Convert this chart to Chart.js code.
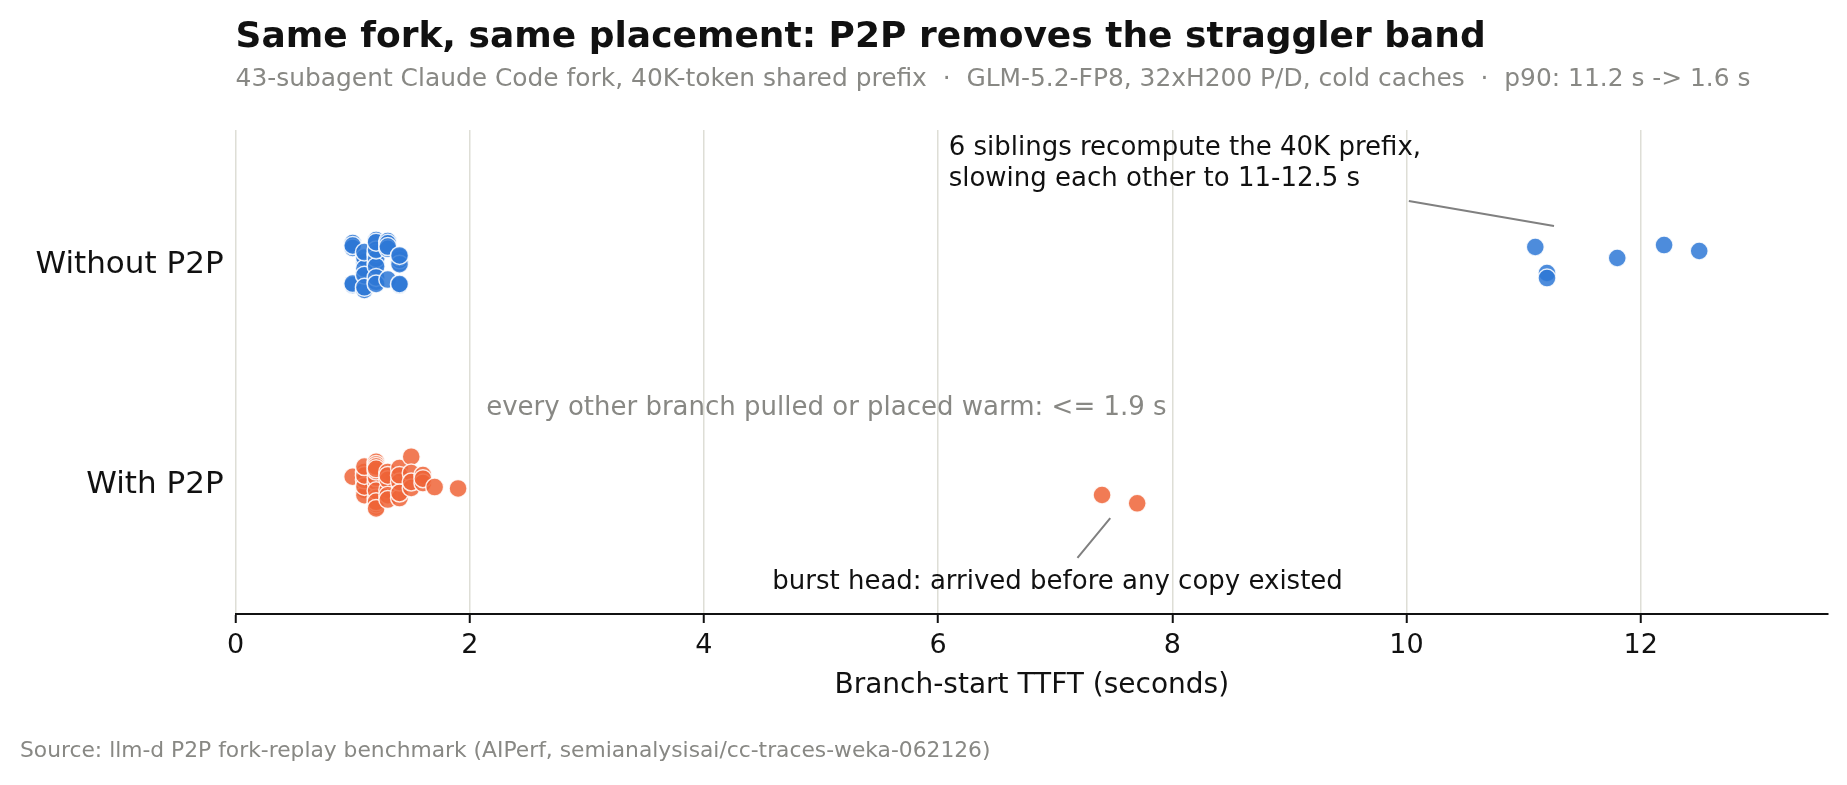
<!DOCTYPE html>
<html>
<head>
<meta charset="utf-8">
<script src="https://cdn.jsdelivr.net/npm/chart.js@4.4.1/dist/chart.umd.min.js"></script>
<style>
  html, body { margin: 0; padding: 0; background: #fff; }
  canvas { display: block; }
</style>
</head>
<body>
<canvas id="forkChart" width="1847" height="785"></canvas>
<script>
const categories = ['With P2P', 'Without P2P'];
const xTickValues = [0, 2, 4, 6, 8, 10, 12];

// branch-start TTFT in seconds, one entry per subagent
const withoutP2PTtft = [
  1.0, 1.0, 1.0, 1.0, 1.0,
  1.1, 1.1, 1.1, 1.1, 1.1, 1.1, 1.1, 1.1,
  1.2, 1.2, 1.2, 1.2, 1.2, 1.2, 1.2, 1.2, 1.2, 1.2, 1.2,
  1.3, 1.3, 1.3, 1.3, 1.3,
  1.4, 1.4, 1.4, 1.4, 1.4, 1.4, 1.4, 1.4,
  11.1, 11.2, 11.2, 11.8, 12.2, 12.5
];
// vertical jitter inside the category band
const withoutP2PJitter = [
  0.086, 0.064, 0.075, -0.105, -0.098,
  0.0, -0.05, -0.127, 0.02, -0.03, -0.06, 0.045, -0.115,
  0.10, 0.032, -0.005, -0.09, 0.04, 0.015, -0.02, 0.055, -0.07, 0.09, -0.10,
  0.095, 0.085, 0.06, -0.08, 0.07,
  0.018, -0.005, -0.105, 0.01, 0.025, -0.01, 0.03, -0.10,
  0.068, -0.05, -0.073, 0.018, 0.077, 0.05
];

const withP2PTtft = [
  1.0,
  1.1, 1.1, 1.1, 1.1, 1.1, 1.1, 1.1,
  1.2, 1.2, 1.2, 1.2, 1.2, 1.2, 1.2, 1.2, 1.2, 1.2, 1.2, 1.2, 1.2,
  1.3, 1.3, 1.3, 1.3, 1.3, 1.3,
  1.4, 1.4, 1.4, 1.4, 1.4,
  1.5, 1.5, 1.5, 1.5,
  1.6, 1.6, 1.6,
  1.7, 1.9,
  7.4, 7.7
];
const withP2PJitter = [
  0.024,
  0.046, -0.036, -0.06, 0.01, -0.02, 0.03, 0.07,
  0.092, 0.0, -0.073, -0.112, 0.08, -0.10, 0.02, -0.04, 0.05, -0.09, 0.07, -0.12, 0.06,
  0.046, -0.036, 0.01, -0.06, 0.03, -0.08,
  -0.073, 0.064, 0.0, 0.03, -0.05,
  0.115, 0.041, -0.027, 0.0,
  0.032, -0.005, 0.015,
  -0.023, -0.029,
  -0.059, -0.097
];

const titleText = 'Same fork, same placement: P2P removes the straggler band';
const subtitleText = '43-subagent Claude Code fork, 40K-token shared prefix  \u00b7  GLM-5.2-FP8, 32xH200 P/D, cold caches  \u00b7  p90: 11.2 s -> 1.6 s';
const sourceText = 'Source: llm-d P2P fork-replay benchmark (AIPerf, semianalysisai/cc-traces-weka-062126)';

const FONT = '"DejaVu Sans", Verdana, sans-serif';

function points(xs, jitter, row) {
  return xs.map((x, i) => ({ x: x, y: row + jitter[i] }));
}

// titles, source line and the callouts
const decorations = {
  id: 'decorations',
  afterDraw(chart) {
    const { ctx, chartArea, scales } = chart;
    const px = (v) => scales.x.getPixelForValue(v);
    const py = (v) => scales.y.getPixelForValue(v);
    ctx.save();

    ctx.textAlign = 'left';
    ctx.textBaseline = 'alphabetic';
    ctx.fillStyle = '#111';
    ctx.font = 'bold 36px ' + FONT;
    ctx.fillText(titleText, chartArea.left, 47);

    ctx.fillStyle = '#888884';
    ctx.font = '24.9px ' + FONT;
    ctx.fillText(subtitleText, chartArea.left, 86);

    ctx.font = '21.8px ' + FONT;
    ctx.fillText(sourceText, 20, 757);

    ctx.strokeStyle = '#808080';
    ctx.lineWidth = 2;
    ctx.beginPath();
    ctx.moveTo(px(10.02), py(1.277));
    ctx.lineTo(px(11.26), py(1.164));
    ctx.moveTo(px(7.19), py(-0.345));
    ctx.lineTo(px(7.47), py(-0.164));
    ctx.stroke();

    ctx.textBaseline = 'middle';
    ctx.fillStyle = '#111';
    ctx.font = '26px ' + FONT;
    ctx.fillText('6 siblings recompute the 40K prefix,', px(6.09), py(1.516));
    ctx.fillText('slowing each other to 11-12.5 s', px(6.09), py(1.375));

    ctx.textAlign = 'center';
    ctx.fillText('burst head: arrived before any copy existed', px(7.02), py(-0.456));

    ctx.textAlign = 'left';
    ctx.fillStyle = '#888884';
    ctx.fillText('every other branch pulled or placed warm: <= 1.9 s', px(2.14), py(0.334));

    ctx.restore();
  }
};

new Chart(document.getElementById('forkChart'), {
  type: 'scatter',
  data: {
    datasets: [
      {
        label: 'Without P2P',
        data: points(withoutP2PTtft, withoutP2PJitter, 1),
        backgroundColor: 'rgba(46, 120, 214, 0.85)',
        borderColor: 'rgba(255, 255, 255, 0.85)',
        borderWidth: 1.5,
        pointRadius: 9,
        pointHoverRadius: 9
      },
      {
        label: 'With P2P',
        data: points(withP2PTtft, withP2PJitter, 0),
        backgroundColor: 'rgba(238, 100, 55, 0.85)',
        borderColor: 'rgba(255, 255, 255, 0.85)',
        borderWidth: 1.5,
        pointRadius: 9,
        pointHoverRadius: 9
      }
    ]
  },
  options: {
    responsive: false,
    devicePixelRatio: 1,
    animation: false,
    layout: {
      padding: { top: 130, right: 19, bottom: 82, left: 0 }
    },
    scales: {
      x: {
        type: 'linear',
        min: 0,
        max: 13.6,
        afterBuildTicks: (scale) => {
          scale.ticks = xTickValues.map((v) => ({ value: v }));
        },
        afterFit: (scale) => {
          scale.height = 89;
        },
        ticks: {
          color: '#111',
          font: { family: FONT, size: 27 },
          padding: 7
        },
        grid: {
          color: '#deded6',
          lineWidth: 1.5,
          tickColor: '#111',
          tickLength: 9,
          tickWidth: 2
        },
        border: {
          color: '#111',
          width: 2
        },
        title: {
          display: true,
          text: 'Branch-start TTFT (seconds)',
          color: '#111',
          font: { family: FONT, size: 28 },
          padding: { top: 0, bottom: 0 }
        }
      },
      y: {
        type: 'linear',
        min: -0.6,
        max: 1.6,
        afterBuildTicks: (scale) => {
          scale.ticks = categories.map((c, i) => ({ value: i }));
        },
        afterFit: (scale) => {
          scale.width = 235.6;
        },
        ticks: {
          color: '#111',
          font: { family: FONT, size: 31 },
          padding: 4,
          labelOffset: 3,
          callback: (value) => categories[value]
        },
        grid: { display: false },
        border: { display: false }
      }
    },
    plugins: {
      legend: { display: false },
      tooltip: { enabled: false }
    }
  },
  plugins: [decorations]
});
</script>
</body>
</html>
